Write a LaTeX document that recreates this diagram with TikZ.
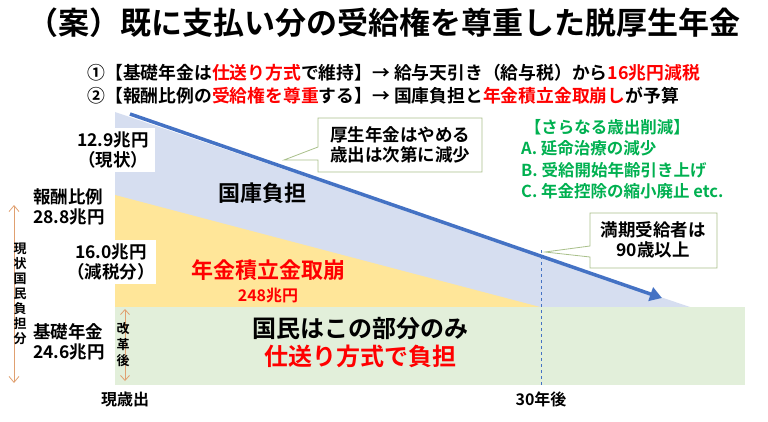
\documentclass[tikz,border=0pt]{standalone}
\usepackage{fontspec}
\setmainfont{Noto Sans CJK JP}[BoldFont={Noto Sans CJK JP Bold}]
\usetikzlibrary{arrows.meta}
\definecolor{bluea}{HTML}{D6DEF0}
\definecolor{yela}{HTML}{FFE699}
\definecolor{grna}{HTML}{E2EFDA}
\definecolor{arr}{HTML}{4472C4}
\definecolor{gtxt}{HTML}{00B050}
\definecolor{boxl}{HTML}{A9C08A}
\definecolor{org}{HTML}{E0A070}
\tikzset{
 lbl/.style={font=\bfseries\fontsize{17.5}{20}\selectfont, align=center, inner sep=1pt},
 wbox/.style={lbl, fill=white, minimum height=44pt},
 call/.style={fill=white, draw=boxl, line width=0.8pt},
 red/.style={text=red}
}
\begin{document}
\begin{tikzpicture}[x=1pt,y=-1pt]
\useasboundingbox (0,0) rectangle (768,422);
% areas
\fill[bluea] (115,112) -- (690,307) -- (115,307) -- cycle;
\fill[yela] (115,195) -- (540,307) -- (115,307) -- cycle;
\fill[grna] (115,307) rectangle (745,385);
\draw[arr, dashed, line width=1pt] (541,250) -- (541,385);
\draw[arr, line width=3.5pt, -{Triangle[length=12pt,width=14pt]}] (130,114) -- (662,298);
% title
\node[font=\bfseries\fontsize{31}{34}\selectfont] (title) at (384,23) {（案）既に支払い分の受給権を尊重した脱厚生年金};
\node[font=\bfseries\fontsize{17.8}{20}\selectfont, anchor=west] (l1) at (84,73) {①【基礎年金は\textcolor{red}{仕送り方式}で維持】→ 給与天引き（給与税）から\textcolor{red}{16兆円減税}};
\node[font=\bfseries\fontsize{17.8}{20}\selectfont, anchor=west] (l2) at (84,96) {②【報酬比例の\textcolor{red}{受給権を尊重}する】→ 国庫負担と\textcolor{red}{年金積立金取崩し}が予算};
% boxes
\node[wbox, minimum width=83pt] (b1) at (113,150) {12.9兆円\\（現状）};
\node[wbox, minimum width=80pt] (b2) at (111,262) {16.0兆円\\（減税分）};
\node[lbl, align=left, anchor=west] (hou) at (32,207) {報酬比例\\28.8兆円};
\node[lbl, align=left, anchor=west] (kiso) at (32,342) {基礎年金\\24.6兆円};
% vertical arrows
\coordinate (va1) at (14,205); \coordinate (va2) at (14,383);
\draw[org, line width=0.8pt, {Straight Barb[length=6pt,width=10pt]}-{Straight Barb[length=6pt,width=10pt]}] (va1) -- (va2);
\node[lbl, font=\bfseries\fontsize{13}{15}\selectfont, align=center] (v1) at (20,294) {現\\状\\国\\民\\負\\担\\分};
\coordinate (vb1) at (125,309); \coordinate (vb2) at (125,381);
\draw[org, line width=0.8pt, {Straight Barb[length=5pt,width=9pt]}-{Straight Barb[length=5pt,width=9pt]}] (vb1) -- (vb2);
\node[lbl, font=\bfseries\fontsize{13}{16}\selectfont] (v2) at (123,345) {改\\革\\後};
% area labels
\node[lbl, font=\bfseries\fontsize{22}{24}\selectfont] (kk) at (262,193) {国庫負担};
\node[lbl, font=\bfseries\fontsize{22}{24}\selectfont, red] (tk) at (268,270) {年金積立金取崩};
\node[lbl, font=\bfseries\fontsize{16}{18}\selectfont, red] (t248) at (268,296) {248兆円};
\node[lbl, font=\bfseries\fontsize{24}{26}\selectfont] (km) at (360,329) {国民はこの部分のみ};
\node[lbl, font=\bfseries\fontsize{24}{26}\selectfont, red] (sk) at (360,356) {仕送り方式で負担};
\node[lbl, font=\bfseries\fontsize{16}{18}\selectfont] (gen) at (125,399) {現歳出};
\node[lbl, font=\bfseries\fontsize{16}{18}\selectfont] (y30) at (541,399) {30年後};
% callouts
\draw[call] (318,118) -- (482,118) -- (482,172) -- (318,172) -- (318,160) -- (284,160) -- (318,147) -- cycle;
\node[lbl] (c1) at (400,145) {厚生年金はやめる\\歳出は次第に減少};
\draw[call] (590,213) -- (717,213) -- (717,268) -- (590,268) -- (590,257) -- (545,252) -- (590,246) -- cycle;
\node[lbl] (c2) at (653,240) {満期受給者は\\90歳以上};
% green list
\node[lbl, text=gtxt, align=left, anchor=north west, font=\bfseries\fontsize{16.5}{21.5}\selectfont] (gl) at (520,118) {\ 【さらなる歳出削減】\\A. 延命治療の減少\\B. 受給開始年齢引き上げ\\C. 年金控除の縮小廃止 etc.};
\end{tikzpicture}
\end{document}
